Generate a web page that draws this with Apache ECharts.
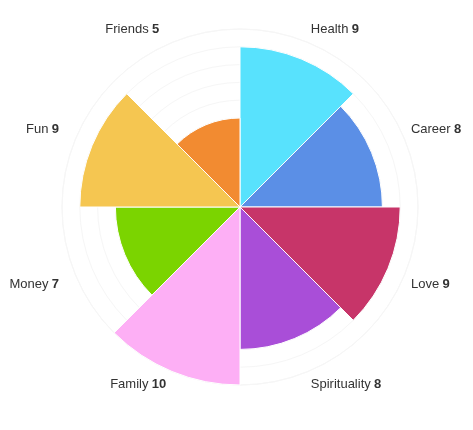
<!DOCTYPE html>
<html>
<head>
<meta charset="utf-8">
<script src="https://cdn.jsdelivr.net/npm/echarts@6/dist/echarts.min.js"></script>
<style>
html,body{margin:0;padding:0;background:#fff;}
#chart{width:473px;height:430px;}
</style>
</head>
<body>
<div id="chart"></div>
<script>
const categories = ['Health', 'Career', 'Love', 'Spirituality', 'Family', 'Money', 'Fun', 'Friends'];
const values = [9, 8, 9, 8, 10, 7, 9, 5];
const colors = ['#58E2FD', '#5B8FE6', '#C73569', '#A94ED8', '#FDAFF5', '#7BD400', '#F5C651', '#F28B31'];

const font = 'Liberation Sans, Arial, sans-serif';
const chart = echarts.init(document.getElementById('chart'), null, {renderer: 'canvas'});
chart.setOption({
  animation: false,
  backgroundColor: '#fff',
  polar: { center: [240, 207], radius: 178 },
  angleAxis: {
    type: 'category',
    data: categories,
    startAngle: 90,
    clockwise: true,
    boundaryGap: true,
    axisLine: { show: true, lineStyle: { color: '#f6f6f6', width: 1 } },
    axisTick: { show: false },
    splitLine: { show: false },
    axisLabel: {
      margin: 7,
      formatter: function (v, i) {
        const style = i === 4 ? 'b1' : (i > 4 ? 'b2' : 'b');
        return '{n|' + v + '} {' + style + '|' + values[i] + '}';
      },
      rich: {
        n: { fontFamily: font, fontSize: 13, color: '#333' },
        b: { fontFamily: font, fontSize: 13, color: '#333', fontWeight: 'bold' },
        b1: { fontFamily: font, fontSize: 13, color: '#333', fontWeight: 'bold', padding: [0, 3, 0, 0] },
        b2: { fontFamily: font, fontSize: 13, color: '#333', fontWeight: 'bold', padding: [0, 10, 0, 0] }
      }
    }
  },
  radiusAxis: {
    type: 'value',
    min: 0,
    max: 10,
    interval: 1,
    axisLine: { show: false },
    axisTick: { show: false },
    axisLabel: { show: false },
    splitLine: { show: true, lineStyle: { color: '#f6f6f6', width: 1 } }
  },
  series: [{
    type: 'bar',
    coordinateSystem: 'polar',
    barCategoryGap: '0%',
    data: values.map((v, i) => ({ value: v, itemStyle: { color: colors[i] } })),
    itemStyle: { borderColor: '#fff', borderWidth: 1 }
  }]
});
</script>
</body>
</html>
